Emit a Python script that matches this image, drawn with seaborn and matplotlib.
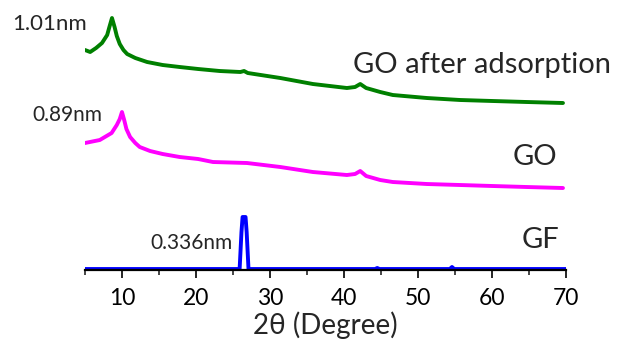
import matplotlib
matplotlib.use("Agg")
import matplotlib.pyplot as plt
import pandas as pd
import seaborn as sns

# XRD patterns (2theta in degrees, intensity in arbitrary units)
go_ads_x = [5.0, 5.7, 6.5, 7.3, 8.0, 8.3, 8.65, 9.0, 9.3, 9.7, 10.2, 10.7, 11.8, 13.4, 15.5,
            17.8, 20.3, 23.2, 26.0, 26.5, 27.0, 31.4, 35.8, 40.4, 41.5, 42.2, 43.0, 44.9,
            46.6, 51.2, 55.7, 60.1, 64.7, 69.6]
go_ads_y = [220, 218, 222, 227, 235, 243, 252, 243, 234, 226, 220, 216, 212, 208, 205,
            203, 201, 199, 198, 199, 197, 192, 186, 182, 183, 186, 182, 178,
            175, 172, 170, 169, 168, 167]

go_x = [5.0, 7.0, 8.6, 9.3, 9.7, 10.0, 10.3, 10.6, 11.1, 11.8, 12.4, 13.8, 15.5, 17.8, 20.3,
        22.3, 26.9, 31.4, 35.8, 40.4, 41.5, 42.2, 43.0, 44.9, 46.6, 51.2, 55.7, 60.1, 64.7,
        69.6]
go_y = [127, 130, 137, 145, 151, 158, 150, 141, 133, 127, 123, 119, 116, 113, 111,
        108, 107, 103, 98, 95, 96, 99, 94, 90, 88, 86, 85, 84, 83,
        82]

gf_x = [5.0, 25.9, 26.15, 26.3, 26.7, 26.85, 27.1, 44.2, 44.5, 44.8, 54.3, 54.6, 54.9, 70.0]
gf_y = [1, 1, 38, 53, 53, 38, 1, 1, 2, 1, 1, 3, 1, 1]

labels = ["GO after adsorption", "GO", "GF"]
colors = ["#008000", "#ff00ff", "#0000ff"]

df = pd.concat([
    pd.DataFrame({"two_theta": go_ads_x, "intensity": go_ads_y, "sample": labels[0]}),
    pd.DataFrame({"two_theta": go_x, "intensity": go_y, "sample": labels[1]}),
    pd.DataFrame({"two_theta": gf_x, "intensity": gf_y, "sample": labels[2]}),
])

sns.set_style("white")
plt.rcParams['font.family'] = ['Lato', 'DejaVu Sans']

fig = plt.figure(figsize=(6.23, 3.39), dpi=100)
ax = fig.add_axes([0.1364, 0.2035, 0.772, 0.7965])

sns.lineplot(data=df, x="two_theta", y="intensity", hue="sample", palette=colors,
             hue_order=labels, linewidth=2.8, legend=False, ax=ax, sort=False)

ax.set_xlim(5, 70)
ax.set_ylim(0, 270)
ax.set_xticks(range(10, 71, 10))
ax.set_xticks(range(5, 70, 10), minor=True)
ax.tick_params(axis="x", which="major", direction="out", length=6, width=1.2,
               labelsize=16.5, pad=7, bottom=True, colors="black")
ax.tick_params(axis="x", which="minor", direction="out", length=3.5, width=1.2, bottom=True)
ax.set_yticks([])
for s in ["left", "right", "top"]:
    ax.spines[s].set_visible(False)
ax.spines["bottom"].set_linewidth(1.6)
ax.spines["bottom"].set_color("black")
ax.set_xlabel("2θ (Degree)", fontsize=20, va="center")
ax.xaxis.set_label_coords(0.5, -0.205)
ax.set_ylabel("")

# peak and curve labels
ax.text(5.2, 246, "1.01nm", fontsize=16, ha="right", va="center")
ax.text(7.4, 155, "0.89nm", fontsize=15, ha="right", va="center")
ax.text(24.9, 27, "0.336nm", fontsize=15, ha="right", va="center")
ax.text(41.2, 205, "GO after adsorption", fontsize=21, ha="left", va="center")
ax.text(62.8, 113, "GO", fontsize=21, ha="left", va="center")
ax.text(64.05, 30, "GF", fontsize=21, ha="left", va="center")

fig.savefig("out.png", dpi=100)
